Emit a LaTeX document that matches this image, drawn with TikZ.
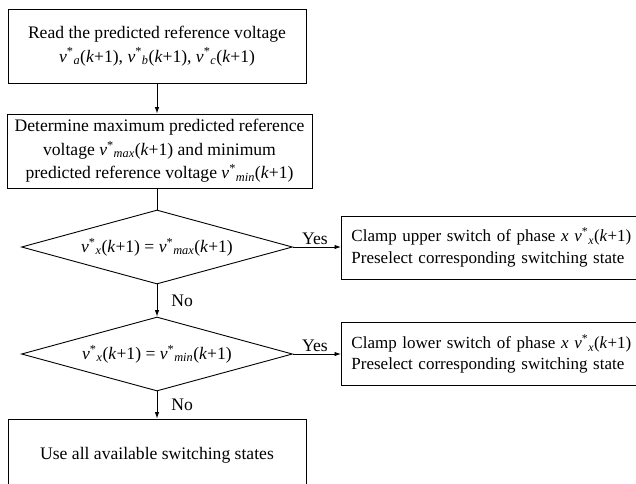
\documentclass[tikz,border=0pt]{standalone}
\usepackage{fontspec}
\setmainfont{Liberation Serif}
\usetikzlibrary{shapes.geometric,arrows.meta}

% reference-voltage symbol: italic v, star superscript, then the subscript
\newcommand{\rv}[1]{\textit{v}\textsuperscript{*}\textsubscript{\textit{#1}}}
\newcommand{\kk}{(\textit{k}+1)}

\begin{document}
\begin{tikzpicture}[x=1pt,y=-1pt,
  font=\fontsize{17.6}{23.5}\selectfont,
  box/.style={draw, line width=0.9pt, align=center, inner sep=0pt},
  decision/.style={draw, diamond, line width=0.9pt, inner sep=0pt,
    minimum width=271pt, minimum height=74pt, aspect=3.66},
  sidebox/.style={draw, line width=0.9pt, anchor=west, align=left,
    text width=340pt, inner xsep=10pt, inner ysep=0pt,
    minimum height=63pt, font=\fontsize{17}{21.5}\selectfont},
  flow/.style={line width=0.9pt, -{Latex[length=6.5pt,width=4.5pt]}},
  lbl/.style={inner sep=2pt}]

\useasboundingbox (0,0) rectangle (636,483);
\clip (0,0) rectangle (636,483);

% main column
\node[box, minimum width=298pt, minimum height=74pt] (read) at (157,46)
  {Read the predicted reference voltage\\
   \rv{a}\kk, \rv{b}\kk, \rv{c}\kk};
\node[box, minimum width=305pt, minimum height=74pt] (maxmin) at (159.5,151)
  {Determine maximum predicted reference\\
   voltage \rv{max}\kk{} and minimum\\
   predicted reference voltage \rv{min}\kk};
\node[decision] (isMax) at (157,247) {\rv{x}\kk{} = \rv{max}\kk};
\node[decision] (isMin) at (157,354) {\rv{x}\kk{} = \rv{min}\kk};
\node[box, minimum width=298pt, minimum height=72pt] (all) at (157,455)
  {Use all available switching states};

% clamping actions on the right
\node[sidebox] (upper) at (341,247.5)
  {Clamp upper switch of phase \textit{x} \rv{x}\kk\\
   Preselect corresponding switching state};
\node[sidebox] (lower) at (341,354)
  {Clamp lower switch of phase \textit{x} \rv{x}\kk\\
   Preselect corresponding switching state};

% connectors
\draw[flow] (read.south -| isMax.north) -- (isMax.north |- maxmin.north);
\draw[line width=0.9pt] (isMax.north |- maxmin.south) -- (isMax.north);
\draw[flow] (isMax.south) -- node[lbl, right, xshift=12pt] {No} (isMin.north);
\draw[flow] (isMin.south) -- node[lbl, right, xshift=12pt] {No} (all.north);
\draw[flow] (isMax.east) -- node[lbl, above, xshift=-2pt] {Yes} (upper.west |- isMax.east);
\draw[flow] (isMin.east) -- node[lbl, above, xshift=-2pt] {Yes} (lower.west |- isMin.east);
\end{tikzpicture}
\end{document}
